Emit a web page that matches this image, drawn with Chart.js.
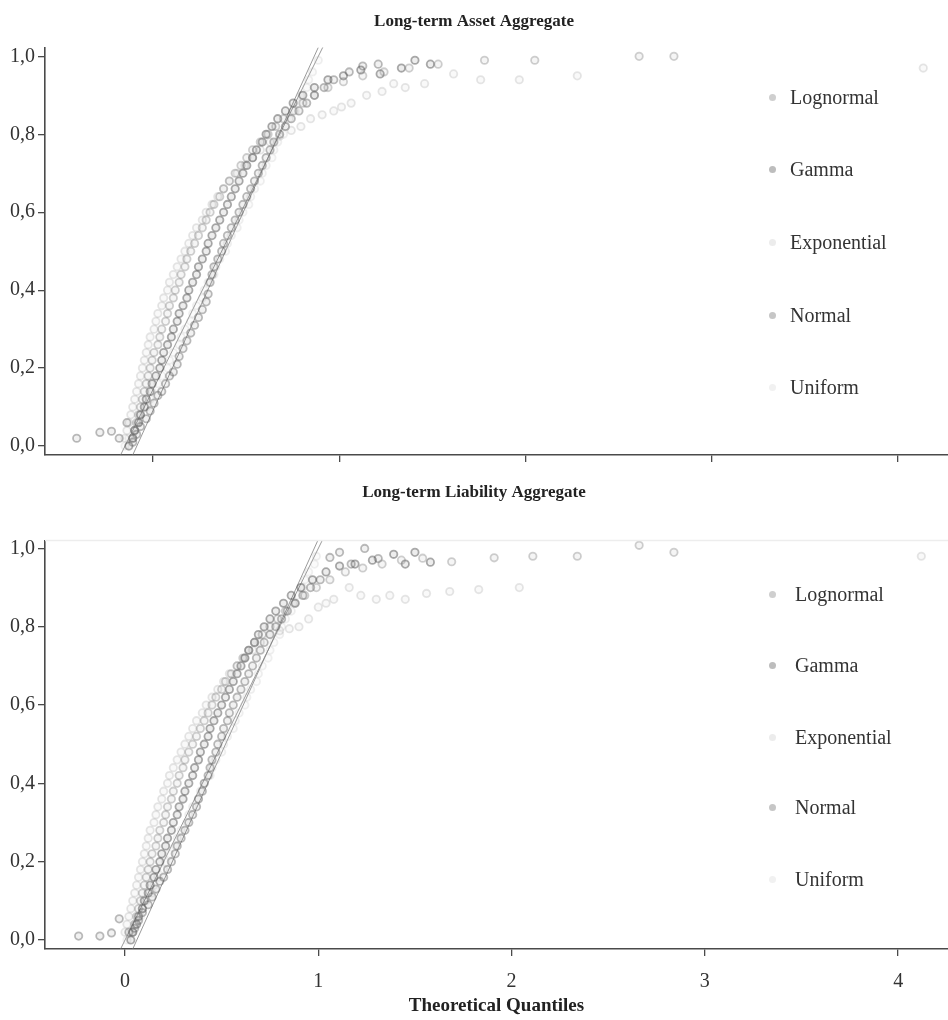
<!DOCTYPE html>
<html><head><meta charset="utf-8">
<script src="https://cdn.jsdelivr.net/npm/chart.js@4.4.1/dist/chart.umd.min.js"></script>
<style>
html,body{margin:0;padding:0;background:#fff;}
#wrap{position:relative;width:948px;height:1020px;overflow:hidden;}
canvas{position:absolute;left:0;}
.lg{position:absolute;height:24px;font-family:"Liberation Serif",serif;font-size:20px;color:#333;line-height:24px;white-space:nowrap;}
.lg .dot{position:absolute;left:0;top:9px;width:7px;height:7px;border-radius:50%;}
.lg .txt{position:absolute;top:0;}
</style></head><body>
<div id="wrap">
<canvas id="c1" width="948" height="470" style="top:0"></canvas>
<canvas id="c2" width="948" height="550" style="top:470px"></canvas>
<div id="legends"></div>
</div>
<script>
// ---------- data ----------
const seriesNames = ['Lognormal', 'Gamma', 'Exponential', 'Normal', 'Uniform'];
const panelTitles = ['Long-term Asset Aggregate', 'Long-term Liability Aggregate'];
const xAxisTitle = 'Theoretical Quantiles';
const yTickValues = [0, 0.2, 0.4, 0.6, 0.8, 1.0];
const xTickValues = [0, 1, 2, 3, 4];
const assetXTickValues = [0.145, 1.112, 2.074, 3.036, 4.0];

const assetLognormal = [[0.04,0.02],[0.05,0.04],[0.06,0.06],[0.07,0.08],[0.08,0.10],[0.09,0.12],[0.10,0.14],[0.11,0.16],[0.12,0.18],[0.13,0.20],[0.14,0.22],[0.15,0.24],[0.17,0.26],[0.18,0.28],[0.19,0.30],[0.21,0.32],[0.22,0.34],[0.23,0.36],[0.25,0.38],[0.26,0.40],[0.28,0.42],[0.29,0.44],[0.31,0.46],[0.32,0.48],[0.34,0.50],[0.36,0.52],[0.38,0.54],[0.40,0.56],[0.42,0.58],[0.44,0.60],[0.46,0.62],[0.49,0.64],[0.51,0.66],[0.54,0.68],[0.57,0.70],[0.60,0.72],[0.63,0.74],[0.66,0.76],[0.70,0.78],[0.74,0.80],[0.78,0.82],[0.82,0.84],[0.87,0.86],[0.92,0.88],[0.98,0.90],[1.05,0.92],[1.13,0.935],[1.23,0.95],[1.34,0.96],[1.47,0.97],[1.62,0.98],[1.86,0.99],[2.12,0.99],[2.66,1.00],[2.84,1.00]];
const assetGamma = [[0.02,0.00],[0.04,0.02],[0.05,0.04],[0.07,0.06],[0.08,0.08],[0.10,0.10],[0.11,0.12],[0.13,0.14],[0.14,0.16],[0.16,0.18],[0.18,0.20],[0.19,0.22],[0.20,0.24],[0.22,0.26],[0.24,0.28],[0.25,0.30],[0.27,0.32],[0.28,0.34],[0.30,0.36],[0.32,0.38],[0.33,0.40],[0.35,0.42],[0.37,0.44],[0.38,0.46],[0.40,0.48],[0.42,0.50],[0.43,0.52],[0.45,0.54],[0.47,0.56],[0.49,0.58],[0.51,0.60],[0.53,0.62],[0.55,0.64],[0.57,0.66],[0.59,0.68],[0.61,0.70],[0.63,0.72],[0.66,0.74],[0.68,0.76],[0.71,0.78],[0.73,0.80],[0.76,0.82],[0.79,0.84],[0.83,0.86],[0.87,0.88],[0.92,0.90],[0.98,0.92],[1.05,0.94],[1.13,0.95],[1.22,0.965],[1.32,0.955],[1.43,0.97],[1.50,0.99],[1.58,0.98]];
const assetExponential = [[0.00,0.02],[0.01,0.04],[0.02,0.06],[0.03,0.08],[0.04,0.10],[0.05,0.12],[0.06,0.14],[0.07,0.16],[0.08,0.18],[0.09,0.20],[0.10,0.22],[0.11,0.24],[0.12,0.26],[0.13,0.28],[0.15,0.30],[0.16,0.32],[0.17,0.34],[0.19,0.36],[0.20,0.38],[0.22,0.40],[0.23,0.42],[0.25,0.44],[0.27,0.46],[0.29,0.48],[0.31,0.50],[0.33,0.52],[0.35,0.54],[0.37,0.56],[0.40,0.58],[0.42,0.60],[0.45,0.62],[0.48,0.64],[0.51,0.66],[0.54,0.68],[0.58,0.70],[0.62,0.72],[0.66,0.74],[0.70,0.76],[0.75,0.78],[0.80,0.795],[0.86,0.81],[0.91,0.82],[0.96,0.84],[1.02,0.85],[1.08,0.86],[1.12,0.87],[1.17,0.88],[1.25,0.90],[1.33,0.91],[1.39,0.93],[1.45,0.92],[1.55,0.93],[1.70,0.955],[1.84,0.94],[2.04,0.94],[2.34,0.95],[4.13,0.97]];
const assetNormal = [[-0.25,0.02],[-0.13,0.035],[-0.07,0.038],[-0.03,0.02],[0.01,0.06],[0.04,0.01],[0.06,0.03],[0.08,0.05],[0.11,0.07],[0.13,0.09],[0.15,0.11],[0.17,0.13],[0.19,0.14],[0.21,0.16],[0.23,0.18],[0.25,0.19],[0.27,0.21],[0.28,0.23],[0.30,0.25],[0.32,0.27],[0.34,0.29],[0.36,0.31],[0.38,0.33],[0.40,0.35],[0.42,0.37],[0.43,0.39],[0.44,0.42],[0.45,0.44],[0.46,0.46],[0.48,0.48],[0.50,0.50],[0.51,0.52],[0.53,0.54],[0.55,0.56],[0.57,0.58],[0.59,0.60],[0.61,0.62],[0.63,0.64],[0.65,0.66],[0.67,0.68],[0.69,0.70],[0.71,0.72],[0.73,0.74],[0.75,0.76],[0.77,0.78],[0.80,0.80],[0.83,0.82],[0.86,0.84],[0.90,0.86],[0.94,0.88],[0.98,0.90],[1.03,0.92],[1.08,0.94],[1.16,0.96],[1.23,0.975],[1.31,0.98]];
const assetUniform = [[0.00,0.00],[0.02,0.02],[0.05,0.04],[0.07,0.06],[0.08,0.08],[0.11,0.10],[0.13,0.12],[0.14,0.14],[0.17,0.16],[0.19,0.18],[0.22,0.20],[0.23,0.22],[0.25,0.24],[0.28,0.26],[0.29,0.28],[0.31,0.30],[0.34,0.32],[0.35,0.34],[0.37,0.36],[0.40,0.38],[0.41,0.40],[0.43,0.42],[0.46,0.44],[0.47,0.46],[0.49,0.48],[0.52,0.50],[0.53,0.52],[0.55,0.54],[0.58,0.56],[0.59,0.58],[0.61,0.60],[0.64,0.62],[0.65,0.64],[0.67,0.66],[0.70,0.68],[0.71,0.70],[0.73,0.72],[0.76,0.74],[0.77,0.76],[0.79,0.78],[0.82,0.80],[0.83,0.82],[0.85,0.84],[0.88,0.86],[0.89,0.88],[0.91,0.90],[0.94,0.92],[0.95,0.94],[0.97,0.96],[1.00,0.99]];
const assetRefLineA = [[-0.03,-0.03],[1.03,1.03]];
const assetRefLineB = [[0.04,-0.023],[1.00,1.023]];

const liabLognormal = [[0.04,0.02],[0.05,0.04],[0.06,0.06],[0.07,0.08],[0.08,0.10],[0.09,0.12],[0.10,0.14],[0.11,0.16],[0.12,0.18],[0.13,0.20],[0.14,0.22],[0.16,0.24],[0.17,0.26],[0.18,0.28],[0.20,0.30],[0.21,0.32],[0.22,0.34],[0.24,0.36],[0.25,0.38],[0.27,0.40],[0.28,0.42],[0.30,0.44],[0.31,0.46],[0.33,0.48],[0.35,0.50],[0.37,0.52],[0.39,0.54],[0.41,0.56],[0.43,0.58],[0.45,0.60],[0.47,0.62],[0.50,0.64],[0.52,0.66],[0.55,0.68],[0.58,0.70],[0.61,0.72],[0.64,0.74],[0.67,0.76],[0.71,0.78],[0.75,0.80],[0.79,0.82],[0.83,0.84],[0.88,0.86],[0.93,0.88],[0.99,0.90],[1.06,0.92],[1.14,0.94],[1.23,0.95],[1.33,0.96],[1.43,0.97],[1.54,0.975],[1.69,0.966],[1.91,0.976],[2.11,0.98],[2.34,0.98],[2.66,1.008],[2.84,0.99]];
const liabGamma = [[0.03,0.00],[0.04,0.02],[0.06,0.04],[0.07,0.06],[0.09,0.08],[0.10,0.10],[0.12,0.12],[0.13,0.14],[0.15,0.16],[0.16,0.18],[0.18,0.20],[0.19,0.22],[0.21,0.24],[0.22,0.26],[0.24,0.28],[0.25,0.30],[0.27,0.32],[0.28,0.34],[0.30,0.36],[0.31,0.38],[0.33,0.40],[0.35,0.42],[0.36,0.44],[0.38,0.46],[0.39,0.48],[0.41,0.50],[0.43,0.52],[0.44,0.54],[0.46,0.56],[0.48,0.58],[0.50,0.60],[0.52,0.62],[0.54,0.64],[0.56,0.66],[0.58,0.68],[0.60,0.70],[0.62,0.72],[0.64,0.74],[0.67,0.76],[0.69,0.78],[0.72,0.80],[0.75,0.82],[0.78,0.84],[0.82,0.86],[0.86,0.88],[0.91,0.90],[0.97,0.92],[1.04,0.94],[1.11,0.955],[1.19,0.96],[1.28,0.97],[1.39,0.985],[1.45,0.96],[1.50,0.99],[1.58,0.965]];
const liabExponential = [[0.00,0.02],[0.01,0.04],[0.02,0.06],[0.03,0.08],[0.04,0.10],[0.05,0.12],[0.06,0.14],[0.07,0.16],[0.08,0.18],[0.09,0.20],[0.10,0.22],[0.11,0.24],[0.12,0.26],[0.13,0.28],[0.15,0.30],[0.16,0.32],[0.17,0.34],[0.19,0.36],[0.20,0.38],[0.22,0.40],[0.23,0.42],[0.25,0.44],[0.27,0.46],[0.29,0.48],[0.31,0.50],[0.33,0.52],[0.35,0.54],[0.37,0.56],[0.40,0.58],[0.42,0.60],[0.45,0.62],[0.48,0.64],[0.51,0.66],[0.54,0.68],[0.58,0.70],[0.62,0.72],[0.66,0.74],[0.70,0.76],[0.75,0.78],[0.80,0.79],[0.85,0.795],[0.90,0.80],[0.95,0.82],[1.00,0.85],[1.04,0.86],[1.08,0.87],[1.16,0.90],[1.22,0.88],[1.30,0.87],[1.37,0.88],[1.45,0.87],[1.56,0.885],[1.68,0.89],[1.83,0.895],[2.04,0.90],[4.12,0.98]];
const liabNormal = [[-0.24,0.01],[-0.13,0.01],[-0.07,0.018],[-0.03,0.054],[0.02,0.02],[0.05,0.03],[0.07,0.05],[0.09,0.07],[0.12,0.09],[0.14,0.11],[0.16,0.13],[0.18,0.15],[0.20,0.16],[0.22,0.18],[0.24,0.20],[0.26,0.22],[0.27,0.24],[0.29,0.26],[0.31,0.28],[0.33,0.30],[0.35,0.32],[0.37,0.34],[0.38,0.36],[0.40,0.38],[0.41,0.40],[0.43,0.42],[0.44,0.44],[0.45,0.46],[0.47,0.48],[0.48,0.50],[0.50,0.52],[0.51,0.54],[0.53,0.56],[0.54,0.58],[0.56,0.60],[0.58,0.62],[0.60,0.64],[0.62,0.66],[0.64,0.68],[0.66,0.70],[0.68,0.72],[0.70,0.74],[0.72,0.76],[0.75,0.78],[0.78,0.80],[0.81,0.82],[0.84,0.84],[0.88,0.86],[0.92,0.88],[0.96,0.90],[1.01,0.92],[1.06,0.977],[1.11,0.99],[1.17,0.96],[1.24,1.00],[1.31,0.974]];
const liabUniform = [[0.01,0.00],[0.03,0.02],[0.05,0.04],[0.08,0.06],[0.09,0.08],[0.11,0.10],[0.14,0.12],[0.15,0.14],[0.17,0.16],[0.20,0.18],[0.21,0.20],[0.23,0.22],[0.26,0.24],[0.27,0.26],[0.29,0.28],[0.32,0.30],[0.33,0.32],[0.35,0.34],[0.38,0.36],[0.39,0.38],[0.41,0.40],[0.44,0.42],[0.45,0.44],[0.47,0.46],[0.50,0.48],[0.51,0.50],[0.53,0.52],[0.56,0.54],[0.57,0.56],[0.59,0.58],[0.62,0.60],[0.63,0.62],[0.65,0.64],[0.68,0.66],[0.69,0.68],[0.71,0.70],[0.74,0.72],[0.75,0.74],[0.77,0.76],[0.80,0.78],[0.81,0.80],[0.83,0.82],[0.86,0.84],[0.87,0.86],[0.89,0.88],[0.92,0.90],[0.93,0.92],[0.95,0.94],[0.98,0.96],[0.99,0.98]];
const liabRefLineA = [[-0.03,-0.03],[1.03,1.03]];
const liabRefLineB = [[0.04,-0.023],[1.00,1.023]];

// ---------- styles ----------
const pointColors = ['rgba(125,125,125,0.36)','rgba(75,75,75,0.46)','rgba(150,150,150,0.24)','rgba(95,95,95,0.42)','rgba(170,170,170,0.18)'];
const pointFills = ['rgba(125,125,125,0.08)','rgba(75,75,75,0.10)','rgba(150,150,150,0.06)','rgba(95,95,95,0.09)','rgba(170,170,170,0.05)'];
const legendDotColors = ['#cfcfcf','#bdbdbd','#ececec','#c6c6c6','#f1f1f1'];

Chart.defaults.font.family = "'Liberation Serif', serif";
Chart.defaults.color = '#333';

function toXY(arr){ return arr.map(p => ({x:p[0], y:p[1]})); }

function buildDatasets(series, lines){
  const ds = series.map((arr,i) => ({
    label: seriesNames[i], data: toXY(arr),
    pointRadius: 3.7, pointBorderWidth: 1.8,
    borderColor: pointColors[i], backgroundColor: pointFills[i],
    pointStyle: 'circle'
  }));
  lines.forEach(l => ds.push({
    label: 'ref', data: toXY(l), showLine: true, pointRadius: 0,
    borderColor: 'rgba(120,120,120,0.75)', borderWidth: 1, backgroundColor: 'transparent'
  }));
  return ds;
}

const topLinePlugin = {
  id: 'topLine',
  afterDraw(chart, args, opts){
    if(!opts.enabled) return;
    const {ctx, chartArea} = chart;
    ctx.save(); ctx.strokeStyle = '#ededed'; ctx.lineWidth = 1.5;
    ctx.beginPath(); ctx.moveTo(chartArea.left, chartArea.top); ctx.lineTo(chartArea.right, chartArea.top); ctx.stroke();
    ctx.restore();
  }
};

function makeChart(id, title, series, lines, cfg){
  const axisColor = '#4a4a4a';
  return new Chart(document.getElementById(id), {
    type: 'scatter',
    data: { datasets: buildDatasets(series, lines) },
    plugins: [topLinePlugin],
    options: {
      responsive: false, animation: false, events: [],
      layout: { autoPadding: false, padding: { left: 0, right: 0, top: 0, bottom: 0 } },
      plugins: {
        legend: { display: false }, tooltip: { enabled: false },
        topLine: { enabled: cfg.topLine },
        title: { display: true, text: title, font: { size: 17, weight: 'bold' }, color: '#222',
                 padding: { top: cfg.titleTop, bottom: cfg.titleBottom } }
      },
      scales: {
        x: {
          type: 'linear', min: -0.414, max: 4.258,
          afterBuildTicks: s => { s.ticks = cfg.xTicks.map(v => ({value: v})); },
          afterFit: s => { s.height = cfg.xHeight; },
          grid: { display: true, drawOnChartArea: false, drawTicks: true, tickLength: 7, color: axisColor, lineWidth: 1.3 },
          border: { display: true, color: axisColor, width: 1.6 },
          ticks: { display: cfg.xLabels, font: { size: 20 }, color: '#333', padding: 14, maxRotation: 0,
                   callback: v => String(v) },
          title: { display: cfg.xLabels, text: xAxisTitle, font: { size: 19, weight: 'bold' }, color: '#222',
                   padding: { top: 2, bottom: 3 } }
        },
        y: {
          type: 'linear', min: cfg.yMin, max: cfg.yMax,
          afterBuildTicks: s => { s.ticks = yTickValues.map(v => ({value: v})); },
          afterFit: s => { s.width = 45; },
          grid: { display: true, drawOnChartArea: false, drawTicks: true, tickLength: 7, color: axisColor, lineWidth: 1.3 },
          border: { display: true, color: axisColor, width: 1.6 },
          ticks: { font: { size: 20 }, color: '#333', padding: 3,
                   callback: v => Number(v).toFixed(1).replace('.', ',') }
        }
      }
    }
  });
}

makeChart('c1', panelTitles[0],
  [assetLognormal, assetGamma, assetExponential, assetNormal, assetUniform],
  [assetRefLineA, assetRefLineB],
  { titleTop: 11, titleBottom: 16, xTicks: assetXTickValues, xLabels: false, xHeight: 14,
    yMin: -0.023, yMax: 1.023, topLine: false });

makeChart('c2', panelTitles[1],
  [liabLognormal, liabGamma, liabExponential, liabNormal, liabUniform],
  [liabRefLineA, liabRefLineB],
  { titleTop: 12.2, titleBottom: 37.8, xTicks: xTickValues, xLabels: true, xHeight: 71,
    yMin: -0.023, yMax: 1.0205, topLine: true });

// ---------- legends (HTML) ----------
const legendLayouts = [
  { dotX: 772, textX: 790, ys: [97, 169, 242, 315, 387] },
  { dotX: 772, textX: 795, ys: [594, 665, 737, 807, 879] }
];
const lgRoot = document.getElementById('legends');
legendLayouts.forEach(L => {
  seriesNames.forEach((name, i) => {
    const d = document.createElement('div');
    d.className = 'lg';
    d.style.left = (L.dotX - 3) + 'px';
    d.style.top = (L.ys[i] - 12) + 'px';
    const dot = document.createElement('span'); dot.className = 'dot'; dot.style.background = legendDotColors[i];
    const t = document.createElement('span'); t.className = 'txt'; t.style.left = (L.textX - L.dotX + 3) + 'px'; t.textContent = name;
    d.appendChild(dot); d.appendChild(t); lgRoot.appendChild(d);
  });
});
</script>
</body></html>
